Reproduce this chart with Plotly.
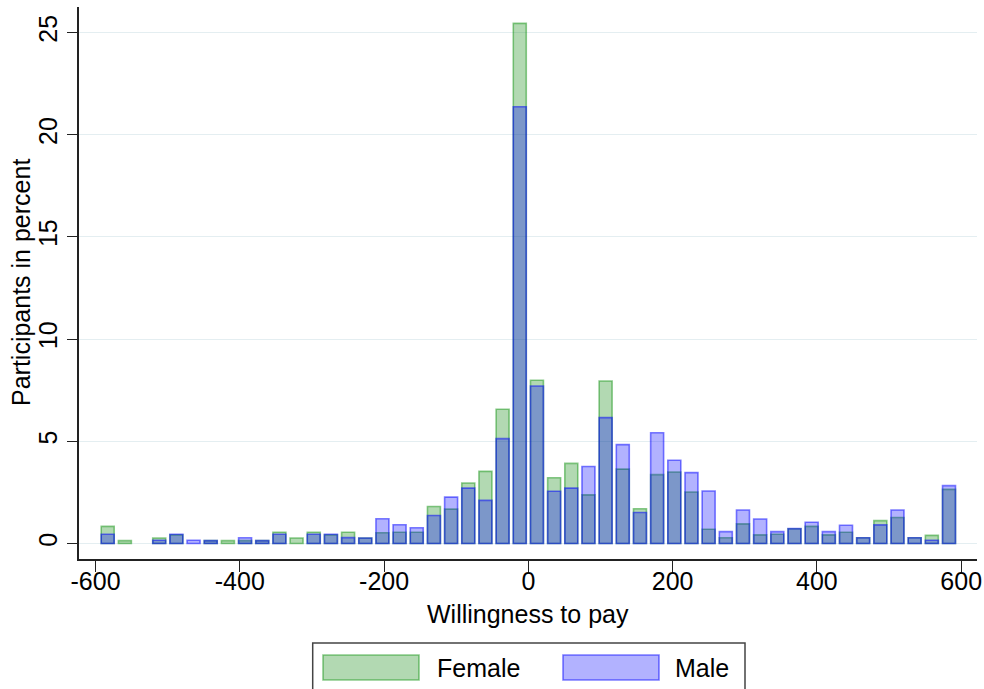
import plotly.graph_objects as go

# Histogram bins (50 bins, width 23.8, from -595 to 595)
bin_start = -595.0
bin_width = 23.8
n_bins = 50
bin_centers = [bin_start + bin_width * (i + 0.5) for i in range(n_bins)]

female = [0.84, 0.14, 0, 0.27, 0.42, 0, 0.14, 0.14, 0.14, 0.14,
          0.55, 0.27, 0.55, 0.42, 0.55, 0.27, 0.53, 0.55, 0.55, 1.81,
          1.68, 2.96, 3.53, 6.57, 25.45, 7.99, 3.22, 3.92, 2.38, 7.95,
          3.64, 1.70, 3.37, 3.50, 2.52, 0.70, 0.28, 0.96, 0.42, 0.45,
          0.72, 0.84, 0.42, 0.55, 0.28, 1.12, 1.27, 0.28, 0.40, 2.65]

male = [0.45, 0, 0, 0.16, 0.45, 0.16, 0.14, 0, 0.28, 0.14,
        0.45, 0, 0.45, 0.45, 0.29, 0.27, 1.21, 0.92, 0.77, 1.37,
        2.27, 2.71, 2.11, 5.13, 21.37, 7.71, 2.56, 2.71, 3.77, 6.16,
        4.84, 1.52, 5.42, 4.07, 3.47, 2.57, 0.58, 1.64, 1.20, 0.58,
        0.73, 1.04, 0.58, 0.89, 0.28, 0.91, 1.64, 0.28, 0.16, 2.83]

x_ticks = [-600, -400, -200, 0, 200, 400, 600]
x_tick_labels = ["-600", "-400", "-200", "0", "200", "400", "600"]
y_ticks = [0, 5, 10, 15, 20, 25]
y_tick_labels = ["0", "5", "10", "15", "20", "25"]

FONT = "Liberation Sans, Arial, Helvetica, sans-serif"
F_FILL = "rgba(0,128,0,0.30)"
F_LINE = "rgba(0,140,0,0.45)"
M_FILL = "rgba(0,0,255,0.30)"
M_LINE = "rgba(0,0,255,0.50)"

def nz(vals):
    return [v if v > 0 else None for v in vals]

fig = go.Figure()
fig.add_trace(go.Bar(x=bin_centers, y=nz(female), width=18.0, name="Female",
                     marker=dict(color=F_FILL, line=dict(color=F_LINE, width=1.6))))
fig.add_trace(go.Bar(x=bin_centers, y=nz(male), width=18.0, name="Male",
                     marker=dict(color=M_FILL, line=dict(color=M_LINE, width=1.6))))

fig.update_layout(
    width=984, height=689,
    margin=dict(l=79, r=7, t=7, b=130),
    paper_bgcolor="white", plot_bgcolor="white",
    barmode="overlay", showlegend=False,
    font=dict(family=FONT, size=25, color="black"),
    xaxis=dict(range=[-622.9, 621.9], tickvals=x_ticks, ticktext=x_tick_labels,
               showgrid=False, zeroline=False, automargin=False,
               showline=True, linecolor="#222", linewidth=1.5,
               ticks="outside", ticklen=11, tickwidth=1.3, tickcolor="#222",
               ticklabelstandoff=-12, tickfont=dict(size=25)),
    yaxis=dict(range=[-0.758, 26.25], tickvals=y_ticks, ticktext=y_tick_labels,
               showgrid=True, gridcolor="#e4eef1",
               gridwidth=1, zeroline=False, automargin=False,
               showline=True, linecolor="#222", linewidth=1.5,
               ticks="outside", ticklen=10, tickwidth=1.3, tickcolor="#222",
               tickangle=-90, tickfont=dict(size=25)),
)

# Pixel -> paper coordinate helpers (plot area: x 79..977, y 7..559)
def px_x(p):
    return (p - 79) / 898.0

def px_y(p):
    return (559 - p) / 552.0

shapes = [
    dict(type="rect", xref="paper", yref="paper", x0=px_x(312.7), x1=px_x(745),
         y0=px_y(643), y1=px_y(705), line=dict(color="#444", width=1.5), fillcolor="white", layer="below"),
    dict(type="rect", xref="paper", yref="paper", x0=px_x(323), x1=px_x(419),
         y0=px_y(655), y1=px_y(680), line=dict(color=F_LINE, width=1.6), fillcolor=F_FILL),
    dict(type="rect", xref="paper", yref="paper", x0=px_x(563), x1=px_x(659),
         y0=px_y(655), y1=px_y(680), line=dict(color=M_LINE, width=1.6), fillcolor=M_FILL),
]
annotations = [
    dict(text="Willingness to pay", xref="paper", yref="paper", x=px_x(528), y=px_y(614),
         xanchor="center", yanchor="middle", showarrow=False, font=dict(size=25)),
    dict(text="Participants in percent", xref="paper", yref="paper", x=px_x(21), y=px_y(283),
         xanchor="center", yanchor="middle", textangle=-90, showarrow=False, font=dict(size=25)),
    dict(text="Female", xref="paper", yref="paper", x=px_x(435), y=px_y(668),
         xanchor="left", yanchor="middle", showarrow=False, font=dict(size=25)),
    dict(text="Male", xref="paper", yref="paper", x=px_x(673), y=px_y(668),
         xanchor="left", yanchor="middle", showarrow=False, font=dict(size=25)),
]
fig.update_layout(shapes=shapes, annotations=annotations)

fig.write_html("out.html", config={"displayModeBar": False},
               post_script="document.body.style.margin='0';document.body.style.overflow='hidden';")
